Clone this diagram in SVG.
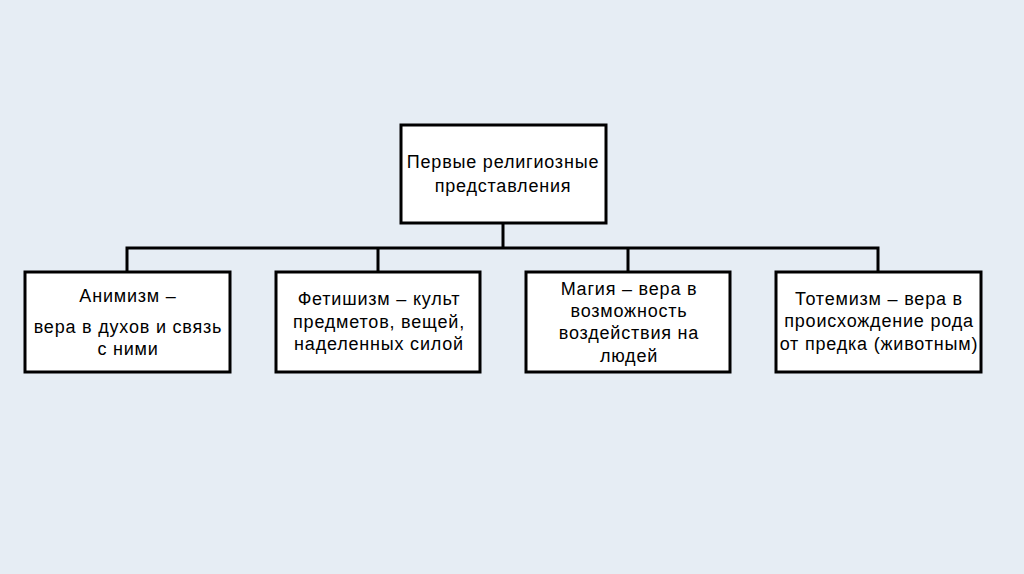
<svg xmlns="http://www.w3.org/2000/svg" width="1024" height="574" viewBox="0 0 1024 574">
<style>
.box{fill:#ffffff;stroke:#000000;stroke-width:3}
.ln{fill:none;stroke:#000000;stroke-width:3}
text{font-family:"Liberation Sans",Arial,sans-serif;font-size:18px;letter-spacing:0.8px;fill:#000000;text-anchor:middle}
</style>
<rect x="0" y="0" width="1024" height="574" fill="#e6edf4"/>
<g id="connectors">
<path class="ln" d="M503 223 V248 M127 272 V248 H878 V272 M378 248 V272 M628 248 V272"/>
</g>
<g id="root">
<rect class="box" x="401" y="125" width="205" height="98"/>
<text x="503" y="168">Первые религиозные</text>
<text x="503" y="192">представления</text>
</g>
<g id="animism">
<rect class="box" x="25" y="272" width="205" height="100"/>
<text x="128" y="302">Анимизм –</text>
<text x="128" y="333">вера в духов и связь</text>
<text x="128" y="355">с ними</text>
</g>
<g id="fetishism">
<rect class="box" x="276" y="272" width="204" height="100"/>
<text x="379" y="305">Фетишизм – культ</text>
<text x="379" y="328">предметов, вещей,</text>
<text x="379" y="350">наделенных силой</text>
</g>
<g id="magic">
<rect class="box" x="526" y="272" width="204" height="100"/>
<text x="629" y="295">Магия – вера в</text>
<text x="629" y="317">возможность</text>
<text x="629" y="339">воздействия на</text>
<text x="629" y="362">людей</text>
</g>
<g id="totemism">
<rect class="box" x="776" y="272" width="205" height="100"/>
<text x="879" y="305">Тотемизм – вера в</text>
<text x="879" y="327">происхождение рода</text>
<text x="879" y="350">от предка (животным)</text>
</g>
</svg>
